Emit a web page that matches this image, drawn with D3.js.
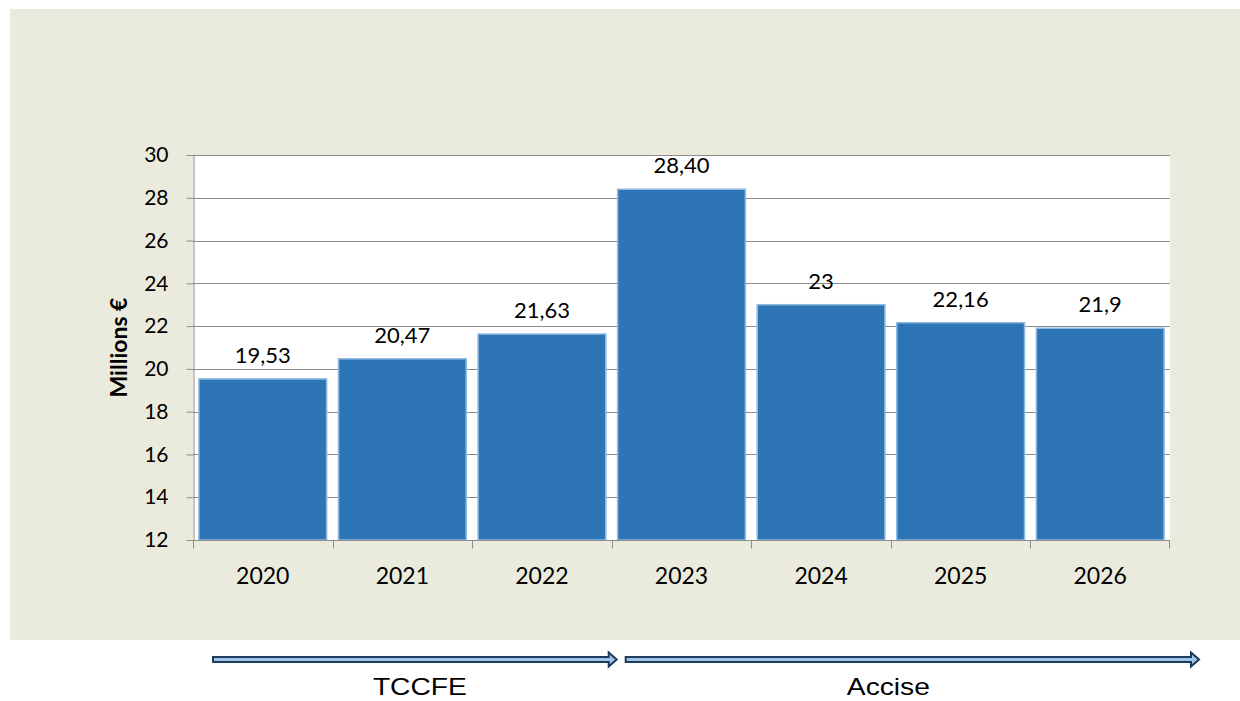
<!DOCTYPE html>
<html>
<head>
<meta charset="utf-8">
<script src="https://cdn.jsdelivr.net/npm/d3@7"></script>
<style>
  body { margin: 0; background: #fff; }
  svg { display: block; }
</style>
</head>
<body>
<svg id="chart" width="1240" height="701"></svg>
<script>
var years = ["2020", "2021", "2022", "2023", "2024", "2025", "2026"];
var values = [19.53, 20.47, 21.63, 28.40, 23, 22.16, 21.9];
var valueLabels = ["19,53", "20,47", "21,63", "28,40", "23", "22,16", "21,9"];
var yTicks = [12, 14, 16, 18, 20, 22, 24, 26, 28, 30];
var phaseNames = ["TCCFE", "Accise"];
var phaseFrom = ["2020", "2023"];
var phaseTo = ["2022", "2026"];

var svg = d3.select("svg#chart"),
    width = +svg.attr("width"),
    height = +svg.attr("height");

var margin = { left: 193, right: 70, top: 155, bottom: 161 };

// beige panel
svg.append("rect")
    .attr("x", 10).attr("y", 9)
    .attr("width", width - 10).attr("height", 631)
    .attr("fill", "#EBEBDD");

var x = d3.scaleBand()
    .domain(years)
    .range([margin.left, width - margin.right])
    .paddingInner(0.085)
    .paddingOuter(0.0425);

var xb = d3.scaleBand()
    .domain(years)
    .range([margin.left, width - margin.right]);

var y = d3.scaleLinear()
    .domain([12, 30])
    .range([height - margin.bottom, margin.top]);

// plot area
svg.append("rect")
    .attr("x", margin.left).attr("y", margin.top)
    .attr("width", width - margin.right - margin.left)
    .attr("height", y(12) - y(30))
    .attr("fill", "#fff");

// gridlines
svg.append("g")
    .selectAll("line")
    .data(yTicks.slice(1))
    .enter().append("line")
    .attr("x1", margin.left)
    .attr("x2", width - margin.right)
    .attr("y1", function(d) { return Math.round(y(d)) + 0.5; })
    .attr("y2", function(d) { return Math.round(y(d)) + 0.5; })
    .attr("stroke", "#8C8C8C")
    .attr("stroke-width", 1);

// bars
svg.append("g")
    .selectAll("rect")
    .data(values)
    .enter().append("rect")
    .attr("x", function(d, i) { return x(years[i]); })
    .attr("y", function(d) { return y(d); })
    .attr("width", x.bandwidth())
    .attr("height", function(d) { return y(12) - y(d); })
    .attr("fill", "#2E75B6")
    .attr("stroke", "#8DB9E2")
    .attr("stroke-width", 1.5);

// value labels
svg.append("g")
    .selectAll("text")
    .data(values)
    .enter().append("text")
    .attr("x", function(d, i) { return x(years[i]) + x.bandwidth() / 2; })
    .attr("y", function(d) { return y(d) - 16; })
    .attr("text-anchor", "middle")
    .style("font-family", "Lato, 'Open Sans', sans-serif")
    .style("font-size", "22px")
    .attr("fill", "#000")
    .text(function(d, i) { return valueLabels[i]; });

// y axis
var yAxis = svg.append("g")
    .attr("transform", "translate(" + (margin.left + 0.5) + ",0)")
    .call(d3.axisLeft(y).tickValues(yTicks).tickSize(7).tickPadding(18));
yAxis.selectAll("line, path").attr("stroke", "#8C8C8C");
yAxis.selectAll("text")
    .style("font-family", "Lato, 'Open Sans', sans-serif")
    .style("font-size", "21px")
    .attr("fill", "#000");

// x axis
var xAxisG = svg.append("g")
    .attr("transform", "translate(0," + (Math.round(y(12)) + 0.5) + ")");
xAxisG.append("line")
    .attr("x1", margin.left).attr("x2", width - margin.right)
    .attr("stroke", "#8C8C8C");
xAxisG.selectAll("line.tick")
    .data(years.concat(["end"]))
    .enter().append("line")
    .attr("class", "tick")
    .attr("x1", function(d) { return d === "end" ? width - margin.right - 0.5 : Math.round(xb(d)) + 0.5; })
    .attr("x2", function(d) { return d === "end" ? width - margin.right - 0.5 : Math.round(xb(d)) + 0.5; })
    .attr("y1", 0).attr("y2", 8)
    .attr("stroke", "#8C8C8C");
xAxisG.selectAll("text")
    .data(years)
    .enter().append("text")
    .attr("x", function(d) { return xb(d) + xb.bandwidth() / 2; })
    .attr("y", 43)
    .attr("text-anchor", "middle")
    .style("font-family", "Lato, 'Open Sans', sans-serif")
    .style("font-size", "23px")
    .attr("fill", "#000")
    .text(function(d) { return d; });

// y title
svg.append("text")
    .attr("transform", "translate(127," + ((y(12) + y(30)) / 2) + ") rotate(-90)")
    .attr("text-anchor", "middle")
    .style("font-family", "Lato, 'Open Sans', sans-serif")
    .style("font-size", "23px")
    .style("font-weight", "bold")
    .attr("fill", "#000")
    .text("Millions €");

// phase arrows
function arrowPath(x0, x1, cy) {
    var t = 2.5, h = 7, hl = 8;
    return "M" + x0 + "," + (cy - t) +
        "L" + (x1 - hl) + "," + (cy - t) +
        "L" + (x1 - hl) + "," + (cy - h) +
        "L" + x1 + "," + cy +
        "L" + (x1 - hl) + "," + (cy + h) +
        "L" + (x1 - hl) + "," + (cy + t) +
        "L" + x0 + "," + (cy + t) + "Z";
}

var arrowStart = [xb(phaseFrom[0]) + 20, xb(phaseFrom[1]) + 14];
var arrowEnd = [xb(phaseTo[0]) + xb.bandwidth() + 5, xb(phaseTo[1]) + xb.bandwidth() + 29];
var labelShift = [5, -24];

var phases = svg.append("g");
phaseNames.forEach(function(name, i) {
    phases.append("path")
        .attr("d", arrowPath(arrowStart[i], arrowEnd[i], 659.5))
        .attr("fill", "#9DC3E6")
        .attr("stroke", "#1F3A5F")
        .attr("stroke-width", 2);
    var cx = (arrowStart[i] + arrowEnd[i]) / 2 + labelShift[i];
    phases.append("text")
        .attr("transform", "translate(" + cx + ",695) scale(1.2,1)")
        .attr("text-anchor", "middle")
        .style("font-family", "'Liberation Sans', Arial, sans-serif")
        .style("font-size", "23.5px")
        .attr("fill", "#000")
        .text(name);
});
</script>
</body>
</html>
